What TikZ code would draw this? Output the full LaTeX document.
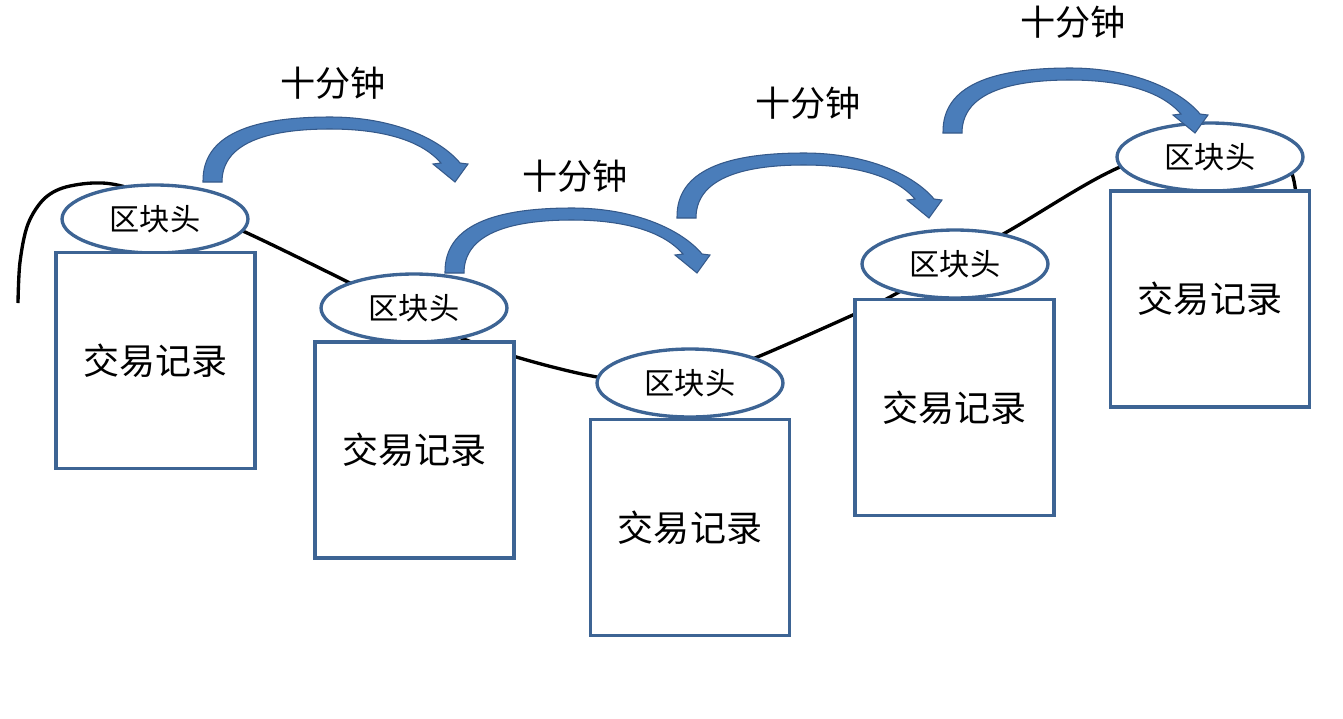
\documentclass[tikz,border=0pt]{standalone}
\usepackage{fontspec}
\newfontfamily\cjk{Noto Sans CJK SC}
\usetikzlibrary{shapes.geometric}
\definecolor{boxblue}{HTML}{3D6494}
\definecolor{arrfill}{HTML}{4A7DBA}
\definecolor{arrline}{HTML}{35598A}
\tikzset{
  hdr/.style={ellipse, draw=boxblue, line width=1.9pt, fill=white, minimum width=3.72cm, minimum height=1.36cm, inner sep=0pt, font=\cjk\fontsize{17.2}{20}\selectfont},
  rec/.style={rectangle, draw=boxblue, line width=1.9pt, fill=white, minimum width=3.98cm, minimum height=4.32cm, inner sep=0pt, font=\cjk\fontsize{20.5}{24}\selectfont},
  tlabel/.style={inner sep=0pt, font=\cjk\fontsize{20}{23}\selectfont},
  chain/.style={line width=1.9pt, black},
  barrow/.style={fill=arrfill, draw=arrline, line width=0.6pt, line join=miter}
}
\begin{document}
\begin{tikzpicture}[x=0.02cm, y=-0.02cm]
\useasboundingbox (0,0) rectangle (1343,718);
% chain curve behind everything
\draw[chain] plot[smooth, tension=0.55] coordinates {(18,303) (20,262) (28,224) (45,198) (70,186) (112,184) (175,203) (245,232) (350,283) (445,331) (513,356) (597,377) (680,386) (755,358) (855,314) (890,297) (1005,233) (1120,167) (1225,138) (1284,160) (1296,196)};
% ellipses
\node[hdr] (h1) at (155,219) {区块头};
\node[hdr] (h2) at (414,308) {区块头};
\node[hdr] (h3) at (690,383) {区块头};
\node[hdr] (h4) at (955,264) {区块头};
\node[hdr] (h5) at (1210,157) {区块头};
% record boxes
\node[rec] (r1) at (155.5,360.5) {交易记录};
\node[rec] (r2) at (414.5,450) {交易记录};
\node[rec] (r3) at (690,527.5) {交易记录};
\node[rec] (r4) at (954.5,407.5) {交易记录};
\node[rec] (r5) at (1210,299) {交易记录};
% curved block arrows
\foreach \tx/\ty in {203/182, 445/273, 677/218, 943/133} {
  \begin{scope}[shift={(\tx,\ty)}]
    \path[barrow] (0,0) .. controls (-1,-48) and (50,-65) .. (127,-65)
      .. controls (192,-65) and (238,-42) .. (257,-19)
      -- (265,-18) -- (252,0) -- (230,-18) -- (238,-19)
      .. controls (220,-40) and (183,-53) .. (127,-53)
      .. controls (62,-53) and (19,-38) .. (19,0) -- cycle;
  \end{scope}
}
% labels
\node[tlabel] (t1) at (333,83) {十分钟};
\node[tlabel] (t2) at (575,176) {十分钟};
\node[tlabel] (t3) at (808,103) {十分钟};
\node[tlabel] (t4) at (1073,22) {十分钟};
\end{tikzpicture}
\end{document}
